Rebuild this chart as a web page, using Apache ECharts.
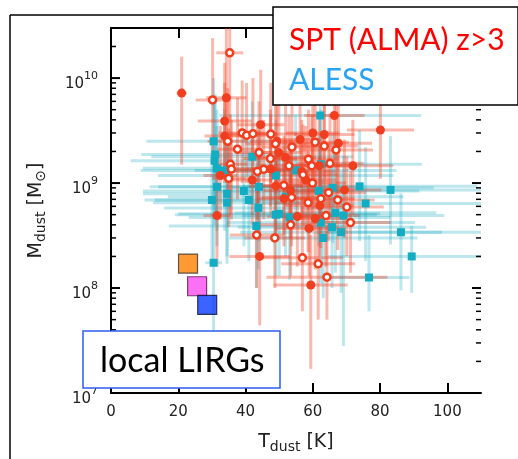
<!DOCTYPE html>
<html>
<head>
<meta charset="utf-8">
<script src="https://cdn.jsdelivr.net/npm/echarts@6/dist/echarts.min.js"></script>
<style>
  html, body { margin: 0; padding: 0; background: #fff; }
  #chart { width: 518px; height: 459px; }
</style>
</head>
<body>
<div id="chart"></div>
<script>
// Dust temperature (K) vs dust mass (M_sun).
// Rows: [T_dust, M_dust, T error (+/-), M lower, M upper]

// SPT (ALMA) z>3, filled symbols
const sptFilled = [
  [21.0, 7.2e9, 1.5, 1.5e9, 1.6e10],
  [34.3, 6.5e9, 6, 2.6e9, 3.0e10],
  [33.8, 3.9e9, 8, 1.2e9, 1.4e10],
  [44.5, 3.6e9, 7, 1.3e9, 1.2e10],
  [66.4, 4.4e9, 9, 1.6e9, 1.5e10],
  [80.1, 3.2e9, 10, 1.1e9, 1.2e10],
  [60.0, 3.0e9, 8, 1.0e9, 9.0e9],
  [63.4, 2.9e9, 9, 1.1e9, 8.0e9],
  [56.2, 2.6e9, 7, 9.0e8, 8.0e9],
  [67.6, 2.4e9, 10, 8.0e8, 7.0e9],
  [33.8, 2.8e9, 6, 1.0e9, 9.0e9],
  [49.3, 2.5e9, 8, 9.0e8, 8.0e9],
  [49.9, 1.95e9, 7, 7.0e8, 6.0e9],
  [51.9, 1.75e9, 9, 6.0e8, 5.5e9],
  [47.5, 1.36e9, 7, 5.0e8, 4.5e9],
  [56.7, 1.29e9, 10, 4.5e8, 4.0e9],
  [32.5, 1.18e9, 5, 4.5e8, 3.5e9],
  [42.0, 1.07e9, 6, 4.0e8, 3.2e9],
  [57.9, 1.07e9, 9, 3.5e8, 3.5e9],
  [49.0, 9.4e8, 8, 3.0e8, 3.0e9],
  [61.9, 1.46e9, 10, 5.0e8, 4.5e9],
  [71.9, 1.46e9, 12, 5.0e8, 4.0e9],
  [69.4, 8.6e8, 11, 3.0e8, 2.6e9],
  [31.5, 4.9e8, 4, 1.6e8, 1.5e9],
  [55.4, 4.8e8, 9, 1.6e8, 1.5e9],
  [51.4, 7.1e8, 8, 2.5e8, 2.2e9],
  [58.9, 3.7e8, 10, 1.3e8, 1.1e9],
  [60.7, 4.6e8, 9, 1.5e8, 1.4e9],
  [62.1, 6.1e8, 10, 2.0e8, 1.8e9],
  [44.2, 2.0e8, 9, 4.4e7, 5.6e8],
  [59.4, 1.07e8, 11, 1.7e7, 3.2e8],
  [53.4, 8.5e8, 8, 3.0e8, 2.6e9]
];

// SPT (ALMA) z>3, open symbols
const sptOpen = [
  [35.3, 1.74e10, 4, 4.0e9, 5.0e10],
  [30.2, 6.2e9, 5, 1.8e9, 2.4e10],
  [39.0, 3.0e9, 7, 1.0e9, 9.5e9],
  [40.3, 2.85e9, 6, 1.0e9, 9.0e9],
  [42.2, 2.95e9, 7, 1.0e9, 1.0e10],
  [47.5, 2.93e9, 8, 1.0e9, 9.0e9],
  [34.7, 2.5e9, 6, 8.0e8, 8.0e9],
  [48.9, 2.37e9, 9, 8.0e8, 7.5e9],
  [37.6, 2.1e9, 6, 7.0e8, 6.5e9],
  [53.8, 2.2e9, 9, 7.5e8, 7.0e9],
  [44.0, 1.95e9, 7, 6.5e8, 6.0e9],
  [47.4, 1.71e9, 8, 6.0e8, 5.0e9],
  [35.5, 1.51e9, 5, 5.0e8, 4.5e9],
  [52.9, 1.46e9, 9, 5.0e8, 4.5e9],
  [45.4, 1.35e9, 8, 4.5e8, 4.0e9],
  [43.5, 1.29e9, 7, 4.5e8, 3.8e9],
  [35.8, 1.36e9, 5, 4.5e8, 4.0e9],
  [57.1, 1.2e9, 10, 4.0e8, 3.6e9],
  [35.0, 1.11e9, 5, 3.8e8, 3.3e9],
  [51.4, 9.5e8, 9, 3.2e8, 2.8e9],
  [53.7, 7.3e8, 9, 2.5e8, 2.2e9],
  [60.7, 2.45e9, 10, 8.0e8, 7.5e9],
  [63.4, 2.25e9, 10, 7.5e8, 7.0e9],
  [66.9, 2.07e9, 11, 7.0e8, 6.5e9],
  [58.7, 1.69e9, 9, 5.5e8, 5.0e9],
  [59.7, 1.46e9, 9, 5.0e8, 4.5e9],
  [65.1, 1.54e9, 10, 5.0e8, 4.6e9],
  [59.9, 1.0e9, 10, 3.5e8, 3.0e9],
  [64.7, 8.1e8, 11, 2.8e8, 2.4e9],
  [62.4, 7.1e8, 10, 2.4e8, 2.2e9],
  [67.4, 6.9e8, 11, 2.3e8, 2.1e9],
  [70.1, 5.9e8, 11, 2.0e8, 1.8e9],
  [63.9, 4.9e8, 10, 1.6e8, 1.5e9],
  [71.2, 4.2e8, 12, 1.4e8, 1.3e9],
  [53.4, 4.0e8, 9, 1.3e8, 1.2e9],
  [58.6, 6.5e8, 10, 2.2e8, 2.0e9],
  [43.3, 3.2e8, 8, 1.0e8, 9.0e8],
  [48.7, 3.0e8, 9, 1.0e8, 9.0e8],
  [56.9, 1.94e8, 12, 6.0e7, 6.0e8],
  [61.6, 1.7e8, 11, 5.0e7, 5.0e8],
  [64.2, 1.27e8, 18, 5.0e7, 4.0e8]
];

// ALESS
const aless = [
  [62.2, 4.4e9, 30, 1.5e9, 1.2e10],
  [30.5, 2.5e9, 20, 6.0e8, 1.0e10],
  [31.0, 1.87e9, 22, 5.0e8, 7.0e9],
  [30.8, 1.63e9, 25, 4.0e8, 6.0e9],
  [42.0, 1.78e9, 30, 5.0e8, 6.0e9],
  [31.5, 1.38e9, 22, 3.5e8, 5.0e9],
  [33.8, 1.32e9, 25, 3.5e8, 5.0e9],
  [49.0, 1.18e9, 35, 3.5e8, 4.0e9],
  [54.9, 1.32e9, 30, 4.0e8, 4.5e9],
  [44.0, 9.2e8, 30, 2.8e8, 3.2e9],
  [39.5, 8.4e8, 30, 2.5e8, 3.0e9],
  [31.5, 9.2e8, 20, 2.5e8, 3.5e9],
  [34.5, 7.9e8, 25, 2.0e8, 3.0e9],
  [51.9, 7.4e8, 35, 2.0e8, 2.6e9],
  [62.4, 1.51e9, 30, 4.5e8, 5.0e9],
  [73.9, 9.3e8, 35, 2.8e8, 3.2e9],
  [83.1, 8.6e8, 30, 2.6e8, 2.8e9],
  [61.7, 8.4e8, 30, 2.5e8, 2.8e9],
  [65.9, 9.0e8, 30, 2.7e8, 3.0e9],
  [30.0, 6.9e8, 20, 1.8e8, 2.6e9],
  [34.5, 6.5e8, 22, 1.7e8, 2.4e9],
  [41.0, 6.9e8, 28, 1.8e8, 2.5e9],
  [43.8, 5.8e8, 28, 1.5e8, 2.1e9],
  [49.0, 5.0e8, 30, 1.3e8, 1.9e9],
  [50.0, 5.1e8, 30, 1.3e8, 1.9e9],
  [53.1, 4.7e8, 30, 1.2e8, 1.8e9],
  [43.2, 3.9e8, 26, 1.0e8, 1.5e9],
  [75.7, 6.4e8, 35, 1.8e8, 2.2e9],
  [66.7, 5.2e8, 30, 1.4e8, 1.9e9],
  [69.1, 4.9e8, 30, 2.8e7, 1.8e9],
  [62.4, 4.2e8, 28, 1.1e8, 1.6e9],
  [65.7, 3.8e8, 28, 1.0e8, 1.4e9],
  [68.4, 3.4e8, 30, 9.0e7, 1.3e9],
  [63.1, 3.0e8, 28, 8.0e7, 1.1e9],
  [86.2, 3.4e8, 25, 9.5e7, 8.0e8],
  [89.4, 2.0e8, 25, 9.0e7, 3.9e8],
  [76.7, 1.26e8, 12, 6.0e7, 3.2e8],
  [30.5, 1.74e8, 2.5, 1.2e7, 6.5e8]
];

// Local LIRGs: [T_dust, M_dust]
const localLirgs = [
  [22.9, 1.71e8],
  [25.6, 1.04e8],
  [28.6, 6.9e7]
];
const localLirgColors = ['#ff7f00', '#fb4ef0', '#0a3cff'];
const localLirgBorders = ['#333333', '#5a1a50', '#111133'];

// Axis ticks
const xTicks = [0, 20, 40, 60, 80, 100];
const yMajorTicks = [1e7, 1e8, 1e9, 1e10];
const yMinorTicks = [
  2e7, 3e7, 4e7, 5e7, 6e7, 7e7, 8e7, 9e7,
  2e8, 3e8, 4e8, 5e8, 6e8, 7e8, 8e8, 9e8,
  2e9, 3e9, 4e9, 5e9, 6e9, 7e9, 8e9, 9e9,
  2e10
];

const RED = '#f03e1f';
const CYAN = '#12adc3';
const X_MIN = 0, X_MAX = 110;

function errorBars(rows, color, width) {
  return {
    type: 'custom',
    xAxisIndex: 0,
    yAxisIndex: 0,
    clip: true,
    silent: true,
    data: rows,
    encode: { x: 0, y: 1 },
    renderItem: function (params, api) {
      const t = api.value(0), m = api.value(1), dt = api.value(2);
      const lo = api.value(3), hi = api.value(4);
      const a = api.coord([t - dt, m]);
      const b = api.coord([t + dt, m]);
      const c = api.coord([t, lo]);
      const d = api.coord([t, hi]);
      const style = { stroke: color, lineWidth: width, fill: null };
      return {
        type: 'group',
        children: [
          { type: 'line', shape: { x1: a[0], y1: a[1], x2: b[0], y2: b[1] }, style: style },
          { type: 'line', shape: { x1: c[0], y1: c[1], x2: d[0], y2: d[1] }, style: style }
        ]
      };
    }
  };
}

// Inward ticks on both vertical spines of the log axis
function logTicks(values, len, width) {
  return {
    type: 'custom',
    xAxisIndex: 0,
    yAxisIndex: 0,
    clip: false,
    silent: true,
    z: 6,
    data: values.map(v => [X_MIN, v]),
    encode: { x: 0, y: 1 },
    renderItem: function (params, api) {
      const v = api.value(1);
      const l = api.coord([X_MIN, v]);
      const r = api.coord([X_MAX, v]);
      const style = { stroke: '#000', lineWidth: width };
      return {
        type: 'group',
        children: [
          { type: 'line', shape: { x1: l[0], y1: l[1], x2: l[0] + len, y2: l[1] }, style: style },
          { type: 'line', shape: { x1: r[0], y1: r[1], x2: r[0] - len, y2: r[1] }, style: style }
        ]
      };
    }
  };
}

const toXY = rows => rows.map(r => [r[0], r[1]]);

const chart = echarts.init(document.getElementById('chart'), null, { renderer: 'canvas' });

const tickColor = '#000';

const option = {
  animation: false,
  backgroundColor: '#fff',
  grid: { left: 111, right: 37, top: 28, bottom: 59, containLabel: false },
  xAxis: [
    {
      type: 'value', min: X_MIN, max: X_MAX, interval: 20, position: 'bottom',
      splitLine: { show: false },
      axisLine: { lineStyle: { color: tickColor, width: 2 } },
      axisTick: { inside: true, length: 10, lineStyle: { color: tickColor, width: 2 }, customValues: xTicks },
      axisLabel: {
        customValues: xTicks, margin: 12, fontSize: 15, color: '#222', fontFamily: 'DejaVu Sans'
      },
      name: '{b|T}{s|dust}{b| [K]}',
      nameLocation: 'middle',
      nameGap: 38,
      nameTextStyle: {
        rich: {
          b: { fontSize: 19, color: '#222', fontFamily: 'DejaVu Sans' },
          s: { fontSize: 14, color: '#222', fontFamily: 'DejaVu Sans', verticalAlign: 'bottom', padding: [9, 0, 0, 0] }
        }
      }
    },
    {
      type: 'value', min: X_MIN, max: X_MAX, interval: 20, position: 'top',
      splitLine: { show: false },
      axisLine: { lineStyle: { color: tickColor, width: 2 } },
      axisTick: { inside: true, length: 10, lineStyle: { color: tickColor, width: 2 }, customValues: xTicks },
      axisLabel: { show: false }
    }
  ],
  yAxis: [
    {
      type: 'log', logBase: 10, min: 1e7, max: 3e10, position: 'left',
      splitLine: { show: false },
      axisLine: { lineStyle: { color: tickColor, width: 2 } },
      axisTick: { show: false },
      axisLabel: {
        customValues: yMajorTicks,
        margin: 13,
        padding: [6, 0, 0, 0],
        formatter: function (v) {
          const e = Math.round(Math.log10(v));
          return '{b|10}{s|' + e + '}';
        },
        rich: {
          b: { fontSize: 15, color: '#222', fontFamily: 'DejaVu Sans', padding: [6, 0, 0, 0] },
          s: { fontSize: 11, color: '#222', fontFamily: 'DejaVu Sans', verticalAlign: 'top' }
        }
      },
      name: '{b|M}{s|dust}{b| [M}{s|\u2299}{b|]}',
      nameLocation: 'middle',
      nameRotate: 90,
      nameGap: 63,
      nameTextStyle: {
        rich: {
          b: { fontSize: 19, color: '#222', fontFamily: 'DejaVu Sans' },
          s: { fontSize: 14, color: '#222', fontFamily: 'DejaVu Sans', verticalAlign: 'bottom', padding: [9, 0, 0, 0] }
        }
      }
    },
    {
      type: 'log', logBase: 10, min: 1e7, max: 3e10, position: 'right',
      splitLine: { show: false },
      axisLine: { lineStyle: { color: tickColor, width: 2 } },
      axisTick: { show: false },
      axisLabel: { show: false }
    }
  ],
  series: [
    errorBars(aless, 'rgba(18,168,192,0.28)', 3),
    errorBars(sptFilled.concat(sptOpen), 'rgba(240,62,31,0.36)', 3),
    {
      type: 'scatter', name: 'ALESS', data: toXY(aless),
      symbol: 'rect', symbolSize: 8,
      itemStyle: { color: CYAN, opacity: 1 }, z: 3
    },
    {
      type: 'scatter', name: 'SPT filled', data: toXY(sptFilled),
      symbol: 'circle', symbolSize: 9,
      itemStyle: { color: RED, opacity: 1 }, z: 4
    },
    {
      type: 'scatter', name: 'SPT open', data: toXY(sptOpen),
      symbol: 'circle', symbolSize: 7,
      itemStyle: { color: '#fff', borderColor: RED, borderWidth: 2.5, opacity: 1 }, z: 4
    },
    {
      type: 'scatter', name: 'local LIRGs',
      data: localLirgs.map((p, i) => ({
        value: p,
        itemStyle: { color: localLirgColors[i], borderColor: localLirgBorders[i], borderWidth: 1.2 }
      })),
      symbol: 'rect', symbolSize: 19, z: 5
    },
    logTicks(yMajorTicks, 9, 2),
    logTicks(yMinorTicks, 5, 1.5)
  ],
  graphic: [
    // outer frame of the panel
    { type: 'line', shape: { x1: 10, y1: 15, x2: 10, y2: 459 }, style: { stroke: '#000', lineWidth: 1.5 }, z: 10 },
    { type: 'line', shape: { x1: 10, y1: 15, x2: 275, y2: 15 }, style: { stroke: '#000', lineWidth: 1.5 }, z: 10 },
    // legend box
    {
      type: 'rect', shape: { x: 273, y: 7, width: 245, height: 98 },
      style: { fill: '#fff', stroke: '#000', lineWidth: 1.5 }, z: 20
    },
    {
      type: 'text', x: 289, y: 40, z: 21,
      style: { text: 'SPT (ALMA) z>3', fill: '#ff0000', font: '30px Lato', verticalAlign: 'middle' }
    },
    {
      type: 'text', x: 289, y: 80, z: 21,
      style: { text: 'ALESS', fill: '#2ba3f3', font: '30px Lato', verticalAlign: 'middle' }
    },
    // local LIRGs label box
    {
      type: 'rect', shape: { x: 83, y: 331, width: 197, height: 57 },
      style: { fill: '#fff', stroke: '#2c5cf0', lineWidth: 1.5 }, z: 20
    },
    {
      type: 'text', x: 100, y: 361, z: 21,
      style: { text: 'local LIRGs', fill: '#000', font: '34px Lato', verticalAlign: 'middle' }
    }
  ]
};

chart.setOption(option);
</script>
</body>
</html>
